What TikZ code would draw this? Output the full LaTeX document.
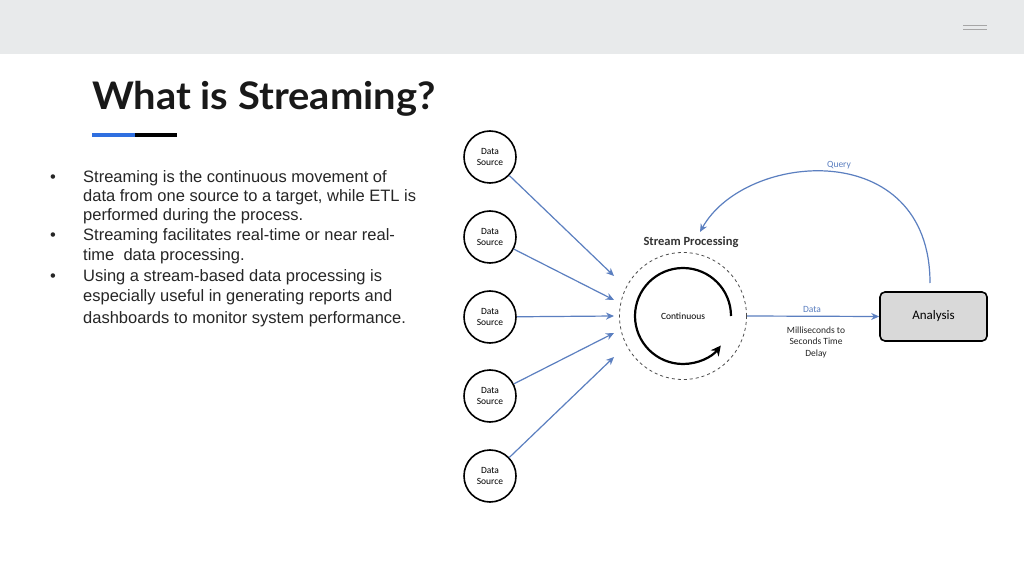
\documentclass[tikz,border=0pt]{standalone}
\usepackage{fontspec}
\setmainfont{Liberation Sans}
\newfontfamily\titlefont{Lato}
\newfontfamily\diafont{Carlito}
\usetikzlibrary{arrows.meta}
\definecolor{hdr}{HTML}{E8EAEB}
\definecolor{ablue}{HTML}{5B7FC0}
\definecolor{ulblue}{HTML}{2F6FE0}
\begin{document}
\begin{tikzpicture}[x=1pt,y=1pt,
  src/.style={circle,draw=black,line width=1.6pt,minimum size=52pt,inner sep=0pt,font=\diafont\fontsize{9.5}{11}\selectfont,align=center,fill=white},
  inarr/.style={draw=ablue,line width=1.2pt,-{Stealth[length=8pt,width=7pt]}},
  lbl/.style={font=\diafont\fontsize{9.5}{11.5}\selectfont,align=center,inner sep=0pt}]
\useasboundingbox (0,0) rectangle (1024,576);
\fill[white] (0,0) rectangle (1024,576);
\fill[hdr] (0,522) rectangle (1024,576);
\draw[gray!70,line width=0.8pt] (963,551)--(987,551) (963,547)--(987,547);
\node[anchor=base west,inner sep=0pt,font=\titlefont\bfseries\fontsize{38}{42}\selectfont,text=black!90,xscale=1.05] (title) at (92,466) {What is Streaming?};
\draw[ulblue,line width=4pt] (92,441)--(135,441);
\draw[black,line width=4pt] (135,441)--(177,441);
\begin{scope}[every node/.style={anchor=base west,inner sep=0pt,font=\fontsize{16.5}{20}\selectfont,text=black!85}]
\node (b1) at (50,393) {\textbullet};
\node (l1) at (83,393) {Streaming is the continuous movement of};
\node (l2) at (83,374) {data from one source to a target, while ETL is};
\node (l3) at (83,355) {performed during the process.};
\node (b2) at (50,335) {\textbullet};
\node (l4) at (83,335) {Streaming facilitates real-time or near real-};
\node (l5) at (83,315) {time\ \ data processing.};
\node (b3) at (50,294) {\textbullet};
\node (l6) at (83,294) {Using a stream-based data processing is};
\node (l7) at (83,274) {especially useful in generating reports and};
\node (l8) at (83,253) {dashboards to monitor system performance.};
\end{scope}
% diagram
\node[circle,draw=black!70,dashed,line width=0.8pt,minimum size=127pt] (sp) at (683,260) {};
\node[lbl] (cont) at (683,260) {Continuous};
\draw[black,line width=2.2pt,-{Stealth[length=10pt,width=10pt]}] (731,260) arc[start angle=0,end angle=322,radius=48];
\node[font=\diafont\bfseries\fontsize{12.5}{14}\selectfont,text=black!80] (spl) at (691,334) {Stream Processing};
\node[src] (s1) at (490,419) {Data\\Source};
\node[src] (s2) at (490,339) {Data\\Source};
\node[src] (s3) at (490,259) {Data\\Source};
\node[src] (s4) at (490,180) {Data\\Source};
\node[src] (s5) at (490,100) {Data\\Source};
\coordinate (e1) at (614,300);
\coordinate (e2) at (614,276);
\coordinate (e3) at (614,260);
\coordinate (e4) at (614,243);
\coordinate (e5) at (614,219);
\draw[inarr] (s1) -- (e1);
\draw[inarr] (s2) -- (e2);
\draw[inarr] (s3) -- (e3);
\draw[inarr] (s4) -- (e4);
\draw[inarr] (s5) -- (e5);
\node[draw=black,line width=1.6pt,fill=gray!30,rounded corners=5pt,minimum width=107pt,minimum height=49pt,font=\diafont\fontsize{13}{15}\selectfont] (an) at (933.5,259.5) {Analysis};
\draw[inarr] (747,260) -- (an.west);
\node[lbl,text=ablue] (dl) at (812,267) {Data};
\node[lbl,text=black!85] (ms) at (816,234) {Milliseconds to\\Seconds Time\\Delay};
\draw[inarr] (930,293) .. controls (930,440) and (745,425) .. (700,344);
\node[lbl,text=ablue] (q) at (839,411) {Query};
\end{tikzpicture}
\end{document}
